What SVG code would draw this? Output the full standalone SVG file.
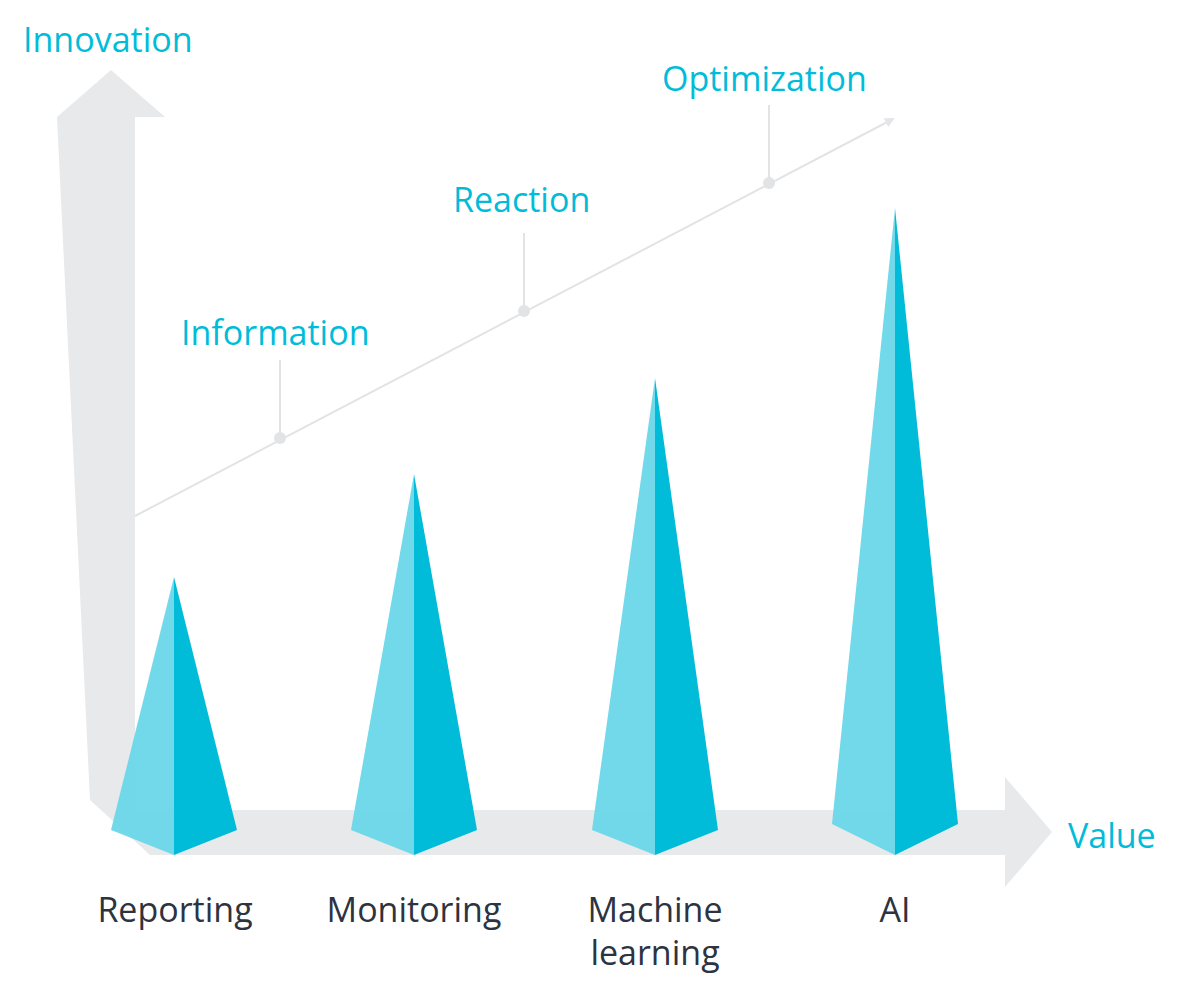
<svg xmlns="http://www.w3.org/2000/svg" width="1177" height="1001" viewBox="0 0 1177 1001">
<style>
.c{font-family:"Open Sans",sans-serif;font-size:34px;fill:#00bcd9}
.d{font-family:"Open Sans",sans-serif;font-size:34px;fill:#2d3340;text-anchor:middle}
.l{fill:#66d6e8;fill-opacity:0.93}
.r{fill:#00bcd9}
</style>
<defs><marker id="a" markerWidth="10" markerHeight="10" refX="8" refY="5" orient="auto" markerUnits="userSpaceOnUse"><path d="M0,0 L10,5 L0,10Z" fill="#e4e5e7"/></marker></defs>
<g id="axes"><polygon points="57,117 111,70 165,117 135,117 135,810 1005,810 1005,777 1052,832 1005,887 1005,855 150,855 90,800" fill="#e8e9eb"/></g>
<g id="connectors" stroke="#e2e3e5" stroke-width="2" fill="none">
<line x1="135" y1="516" x2="893" y2="119" marker-end="url(#a)"/>
<line x1="280" y1="438" x2="280" y2="360"/>
<line x1="524" y1="311" x2="524" y2="233"/>
<line x1="769" y1="183" x2="769" y2="105"/>
<g fill="#e2e3e5" stroke="none"><circle cx="280" cy="438" r="6"/><circle cx="524" cy="311" r="6"/><circle cx="769" cy="183" r="6"/></g>
</g>
<g id="reporting"><polygon class="l" points="174,577 111,830 174,855"/><polygon class="r" points="174,577 237,830 174,855"/><text class="d" x="175" y="922">Reporting</text></g>
<g id="monitoring"><polygon class="l" points="414,474 351,830 414,855"/><polygon class="r" points="414,474 477,830 414,855"/><text class="d" x="414" y="922">Monitoring</text></g>
<g id="ml"><polygon class="l" points="655,378 592,830 655,855"/><polygon class="r" points="655,378 718,830 655,855"/><text class="d" x="655" y="922">Machine</text><text class="d" x="655" y="965">learning</text></g>
<g id="ai"><polygon class="l" points="895,208 832,824 895,855"/><polygon class="r" points="895,208 958,824 895,855"/><text class="d" x="895" y="922">AI</text></g>
<g id="labels">
<text class="c" x="23" y="52">Innovation</text>
<text class="c" x="662" y="91">Optimization</text>
<text class="c" x="453" y="212">Reaction</text>
<text class="c" x="181" y="345">Information</text>
<text class="c" x="1068" y="848">Value</text>
</g>
</svg>
